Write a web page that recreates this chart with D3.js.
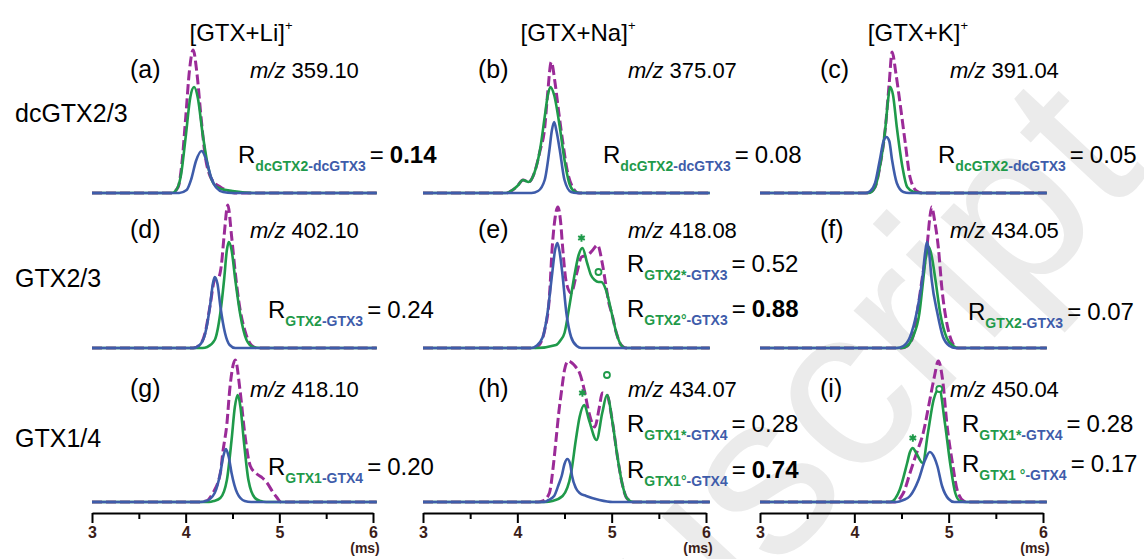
<!DOCTYPE html>
<html>
<head>
<meta charset="utf-8">
<script src="https://cdn.jsdelivr.net/npm/d3@7"></script>
<style>
  html, body { margin: 0; padding: 0; background: #fff; }
  svg { display: block; font-family: "Liberation Sans", Arial, sans-serif; }
</style>
</head>
<body>
<svg id="chart" width="1144" height="559"></svg>
<script>
// column / row names
const ionHeaders = ['[GTX+Li]', '[GTX+Na]', '[GTX+K]'];
const rowNames = ['dcGTX2/3', 'GTX2/3', 'GTX1/4'];
const panelKeys = ['a', 'b', 'c', 'd', 'e', 'f', 'g', 'h', 'i'];
const mzValues = ['359.10', '375.07', '391.04', '402.10', '418.08', '434.05', '418.10', '434.07', '450.04'];

const xTicks = [3, 3.5, 4, 4.5, 5, 5.5, 6];

// drift time (ms), intensity
const panelA = {
    mix:   [[3.85,0],[3.92,6],[3.96,30],[4.00,75],[4.04,122],[4.08,143],[4.12,120],[4.16,80],[4.21,36],[4.26,17],[4.31,10],[4.37,6],[4.45,2],[4.52,0]],
    green: [[3.85,0],[3.90,3],[3.95,18],[4.00,56],[4.05,96],[4.09,106],[4.13,95],[4.18,60],[4.24,26],[4.30,9],[4.38,4],[4.50,2],[4.72,0]],
    blue:  [[3.93,0],[4.01,3],[4.06,14],[4.11,32],[4.17,42],[4.22,33],[4.27,16],[4.33,5],[4.40,1],[4.50,0]]
};
const panelB = {
    mix:   [[3.88,0],[3.95,3],[4.00,7],[4.06,13],[4.12,11],[4.18,20],[4.24,42],[4.29,65],[4.32,98],[4.36,131],[4.40,110],[4.44,80],[4.48,52],[4.53,22],[4.58,7],[4.65,0]],
    green: [[3.88,0],[3.95,3],[4.00,7],[4.06,13],[4.12,11],[4.18,20],[4.24,43],[4.29,76],[4.32,96],[4.35,106],[4.39,98],[4.45,66],[4.50,33],[4.55,10],[4.60,2],[4.66,0]],
    blue:  [[4.15,0],[4.22,2],[4.29,13],[4.34,43],[4.365,62],[4.39,71],[4.415,62],[4.45,43],[4.50,13],[4.57,1],[4.63,0]]
};
const panelC = {
    mix:   [[4.15,0],[4.22,6],[4.27,26],[4.33,66],[4.37,110],[4.40,141],[4.44,120],[4.48,93],[4.54,50],[4.59,16],[4.66,2],[4.72,0]],
    green: [[4.15,0],[4.22,6],[4.27,26],[4.33,66],[4.36,95],[4.38,106],[4.41,98],[4.45,66],[4.51,26],[4.56,6],[4.63,1],[4.70,0]],
    blue:  [[4.12,0],[4.17,2],[4.22,10],[4.27,33],[4.31,52],[4.34,56],[4.37,52],[4.40,33],[4.45,10],[4.52,1],[4.58,0]]
};
const panelD = {
    mix:   [[4.08,0],[4.15,3],[4.21,16],[4.26,42],[4.31,68],[4.35,70],[4.38,82],[4.41,112],[4.45,143],[4.49,112],[4.53,75],[4.57,45],[4.63,18],[4.70,3],[4.76,0]],
    green: [[4.18,0],[4.23,1],[4.31,8],[4.37,35],[4.41,68],[4.44,98],[4.46,106],[4.49,98],[4.53,68],[4.58,35],[4.65,8],[4.72,1],[4.80,0]],
    blue:  [[4.08,0],[4.15,3],[4.21,15],[4.26,42],[4.29,64],[4.31,71],[4.34,64],[4.37,42],[4.42,15],[4.47,3],[4.53,0]]
};
const panelE = {
    mix:   [[4.17,0],[4.22,2],[4.29,18],[4.34,51],[4.37,101],[4.40,130],[4.43,141],[4.46,125],[4.48,101],[4.52,65],[4.57,55],[4.63,75],[4.68,91],[4.75,93],[4.80,98],[4.85,103],[4.90,85],[4.94,62],[4.97,45],[5.00,35],[5.05,15],[5.10,3],[5.15,0]],
    green: [[4.20,0],[4.41,3],[4.46,8],[4.50,15],[4.55,41],[4.61,75],[4.65,93],[4.69,100],[4.74,85],[4.78,73],[4.82,68],[4.86,66],[4.89,66],[4.94,58],[5.00,35],[5.05,15],[5.10,3],[5.15,0]],
    blue:  [[4.15,0],[4.20,2],[4.27,11],[4.32,35],[4.37,75],[4.40,98],[4.425,105],[4.45,95],[4.48,72],[4.52,35],[4.57,11],[4.63,2],[4.68,0]]
};
const panelF = {
    mix:   [[4.50,0],[4.56,2],[4.62,11],[4.67,38],[4.72,70],[4.77,101],[4.80,130],[4.82,141],[4.85,128],[4.89,101],[4.93,58],[4.98,25],[5.04,5],[5.09,0]],
    green: [[4.50,0],[4.56,2],[4.62,11],[4.69,35],[4.73,68],[4.76,92],[4.79,101],[4.82,92],[4.86,68],[4.91,35],[4.98,10],[5.05,2],[5.10,0]],
    blue:  [[4.45,0],[4.52,2],[4.59,11],[4.66,35],[4.72,68],[4.75,95],[4.77,106],[4.79,98],[4.82,68],[4.88,35],[4.94,11],[5.01,2],[5.07,0]]
};
const panelG = {
    mix:   [[4.15,0],[4.22,1],[4.29,9],[4.37,29],[4.40,52],[4.44,78],[4.47,112],[4.53,142],[4.58,112],[4.63,69],[4.69,36],[4.76,28],[4.82,24],[4.87,19],[4.93,10],[4.97,5],[5.02,0]],
    green: [[4.25,0],[4.30,1],[4.37,4],[4.44,22],[4.49,62],[4.525,95],[4.555,107],[4.585,95],[4.62,62],[4.67,22],[4.74,4],[4.80,1],[4.86,0]],
    blue:  [[4.15,0],[4.22,1],[4.31,9],[4.37,29],[4.40,45],[4.43,53],[4.46,45],[4.49,29],[4.55,9],[4.63,1],[4.70,0]]
};
const panelH = {
    mix:   [[4.22,0],[4.27,1],[4.34,9],[4.38,35],[4.41,62],[4.44,90],[4.47,112],[4.50,132],[4.54,141],[4.58,139],[4.62,135],[4.66,129],[4.71,112],[4.76,89],[4.82,75],[4.87,95],[4.90,109],[4.95,107],[5.01,79],[5.06,46],[5.11,19],[5.16,4],[5.23,0]],
    green: [[4.30,0],[4.37,1],[4.48,6],[4.57,29],[4.62,62],[4.66,85],[4.71,97],[4.76,82],[4.84,62],[4.90,89],[4.95,107],[5.01,79],[5.06,46],[5.11,19],[5.16,4],[5.23,0]],
    blue:  [[4.28,0],[4.33,2],[4.39,6],[4.44,18],[4.47,26],[4.50,38],[4.53,43],[4.56,38],[4.58,26],[4.62,14],[4.66,9],[4.73,6],[4.87,2],[5.01,0]]
};
const panelI = {
    mix:   [[4.42,0],[4.52,9],[4.59,29],[4.66,49],[4.73,69],[4.80,102],[4.85,126],[4.89,141],[4.94,119],[4.98,79],[5.04,39],[5.09,12],[5.16,1],[5.20,0]],
    green: [[4.38,0],[4.48,12],[4.56,39],[4.59,50],[4.62,54],[4.65,50],[4.725,39],[4.78,69],[4.84,102],[4.90,113],[4.96,79],[5.02,36],[5.07,9],[5.12,1],[5.18,0]],
    blue:  [[4.45,0],[4.52,2],[4.59,6],[4.68,22],[4.75,42],[4.80,50],[4.85,44],[4.88,36],[4.93,16],[5.00,3],[5.06,0]]
};
const panels = [panelA, panelB, panelC, panelD, panelE, panelF, panelG, panelH, panelI];

// peak markers: panel, drift time, height
const starMarks = [['e', 4.68, 110], ['h', 4.69, 109], ['i', 4.62, 64]];
const ringMarks = [['e', 4.86, 76], ['h', 4.95, 127], ['i', 4.90, 113]];

// R labels: panel, green part, blue part, value, bold value
const ratioLabels = [
    ['a', 'dcGTX2', '-dcGTX3', '0.14', true],
    ['b', 'dcGTX2', '-dcGTX3', '0.08', false],
    ['c', 'dcGTX2', '-dcGTX3', '0.05', false],
    ['d', 'GTX2', '-GTX3', '0.24', false],
    ['e', 'GTX2*', '-GTX3', '0.52', false],
    ['e', 'GTX2\u00b0', '-GTX3', '0.88', true],
    ['f', 'GTX2', '-GTX3', '0.07', false],
    ['g', 'GTX1', '-GTX4', '0.20', false],
    ['h', 'GTX1*', '-GTX4', '0.28', false],
    ['h', 'GTX1\u00b0', '-GTX4', '0.74', true],
    ['i', 'GTX1*', '-GTX4', '0.28', false],
    ['i', 'GTX1 \u00b0', '-GTX4', '0.17', false]
];

// layout
const colRange = [[92, 373], [423, 706], [760, 1043]];
const rowBase = [193, 348, 502];
const axisY = 513;
const ratioPos = [[238,163],[603,163],[938,163],[268,318],[627,272],[627,317],[968,320],[268,475],[627,432],[627,478],[962,432],[962,472]];
const headerX = [241, 578, 918];
const letterX = [130, 478, 820];
const mzX = [250, 628, 950];
const rowLabelY = [122, 287, 447];
const letterY = [78, 238, 397];

const GREEN = '#1f9a4a';
const BLUE = '#3e5caa';
const PURPLE = '#9b2b98';
const BROWN = '#3b1d18';

const svg = d3.select('#chart');

// faint watermark behind everything
svg.append('text')
    .attr('transform', 'translate(1150,171) rotate(-47)')
    .attr('text-anchor', 'end')
    .style('font-size', '230px')
    .attr('fill', '#ebebeb')
    .text('Manuscript');

const xScales = colRange.map(r => d3.scaleLinear().domain([3, 6]).range(r));
const yScales = rowBase.map(b => d3.scaleLinear().domain([0, 150]).range([b, b - 150]));

const withBase = pts => [[3, 0], ...pts, [6.04, 0]];

panels.forEach((p, i) => {
    const col = i % 3, row = Math.floor(i / 3);
    const x = xScales[col], y = yScales[row];
    const line = d3.line()
        .x(d => x(d[0]))
        .y(d => y(d[1]))
        .curve(d3.curveMonotoneX);

    const g = svg.append('g').attr('class', 'panel-' + panelKeys[i]);

    g.append('path')
        .attr('d', line(withBase(p.mix)))
        .attr('fill', 'none')
        .attr('stroke', PURPLE)
        .attr('stroke-width', 3)
        .attr('stroke-dasharray', '10,4');

    g.append('path')
        .attr('d', line(withBase(p.green)))
        .attr('fill', 'none')
        .attr('stroke', GREEN)
        .attr('stroke-width', 2.6);

    g.append('path')
        .attr('d', line(withBase(p.blue)))
        .attr('fill', 'none')
        .attr('stroke', BLUE)
        .attr('stroke-width', 2.6);

    // panel letter and m/z
    g.append('text')
        .attr('x', letterX[col])
        .attr('y', letterY[row])
        .style('font-size', '25px')
        .text('(' + panelKeys[i] + ')');

    const mz = g.append('text')
        .attr('x', mzX[col])
        .attr('y', letterY[row])
        .style('font-size', '22px');
    mz.append('tspan').style('font-style', 'italic').text('m/z');
    mz.append('tspan').text(' ' + mzValues[i]);
});

// peak markers
const markPos = (key, t, h) => {
    const i = panelKeys.indexOf(key);
    return [xScales[i % 3](t), yScales[Math.floor(i / 3)](h)];
};

starMarks.forEach(([k, t, h]) => {
    const [px, py] = markPos(k, t, h);
    svg.append('path')
        .attr('transform', `translate(${px},${py})`)
        .attr('d', d3.symbol().type(d3.symbolAsterisk).size(40)())
        .attr('fill', 'none')
        .attr('stroke', GREEN)
        .attr('stroke-width', 2);
});

ringMarks.forEach(([k, t, h]) => {
    const [px, py] = markPos(k, t, h);
    svg.append('circle')
        .attr('cx', px)
        .attr('cy', py)
        .attr('r', 3)
        .attr('fill', '#fff')
        .attr('stroke', GREEN)
        .attr('stroke-width', 1.8);
});

// R annotations
ratioLabels.forEach((r, j) => {
    const [px, py] = ratioPos[j];
    const t = svg.append('text')
        .attr('x', px)
        .attr('y', py)
        .style('font-size', '24px');
    t.append('tspan').text('R');
    t.append('tspan')
        .attr('dy', 8)
        .style('font-size', '14px')
        .style('font-weight', 'bold')
        .attr('fill', GREEN)
        .text(r[1]);
    t.append('tspan')
        .style('font-size', '14px')
        .style('font-weight', 'bold')
        .attr('fill', BLUE)
        .text(r[2]);
    t.append('tspan')
        .attr('dy', -8)
        .attr('dx', 4)
        .text('=');
    t.append('tspan')
        .attr('dx', 6)
        .style('font-weight', r[4] ? 'bold' : 'normal')
        .text(r[3]);
});

// column headers
ionHeaders.forEach((h, c) => {
    const t = svg.append('text')
        .attr('x', headerX[c])
        .attr('y', 41)
        .attr('text-anchor', 'middle')
        .style('font-size', '24px');
    t.append('tspan').text(h);
    t.append('tspan')
        .attr('dy', -11)
        .style('font-size', '13px')
        .text('+');
});

// row labels
rowNames.forEach((n, r) => {
    svg.append('text')
        .attr('x', 15)
        .attr('y', rowLabelY[r])
        .style('font-size', '25px')
        .text(n);
});

// x axes under the bottom row
xScales.forEach(x => {
    const ax = svg.append('g')
        .attr('transform', `translate(0,${axisY})`)
        .call(d3.axisBottom(x)
            .tickValues(xTicks)
            .tickSize(10)
            .tickSizeOuter(0)
            .tickPadding(4)
            .tickFormat(d => d % 1 ? '' : d));

    ax.select('.domain').attr('stroke', '#000').attr('stroke-width', 2);
    ax.selectAll('.tick line')
        .attr('stroke', '#000')
        .attr('stroke-width', 2)
        .attr('y2', d => d % 1 ? 6 : 10);
    ax.selectAll('.tick text')
        .attr('fill', BROWN)
        .style('font-size', '16px')
        .style('font-weight', 'bold')
        .style('font-family', '"Liberation Sans", Arial, sans-serif');

    svg.append('text')
        .attr('x', x(6) - 8)
        .attr('y', 553)
        .attr('text-anchor', 'middle')
        .attr('fill', BROWN)
        .style('font-size', '14px')
        .style('font-weight', 'bold')
        .text('(ms)');
});
</script>
</body>
</html>
